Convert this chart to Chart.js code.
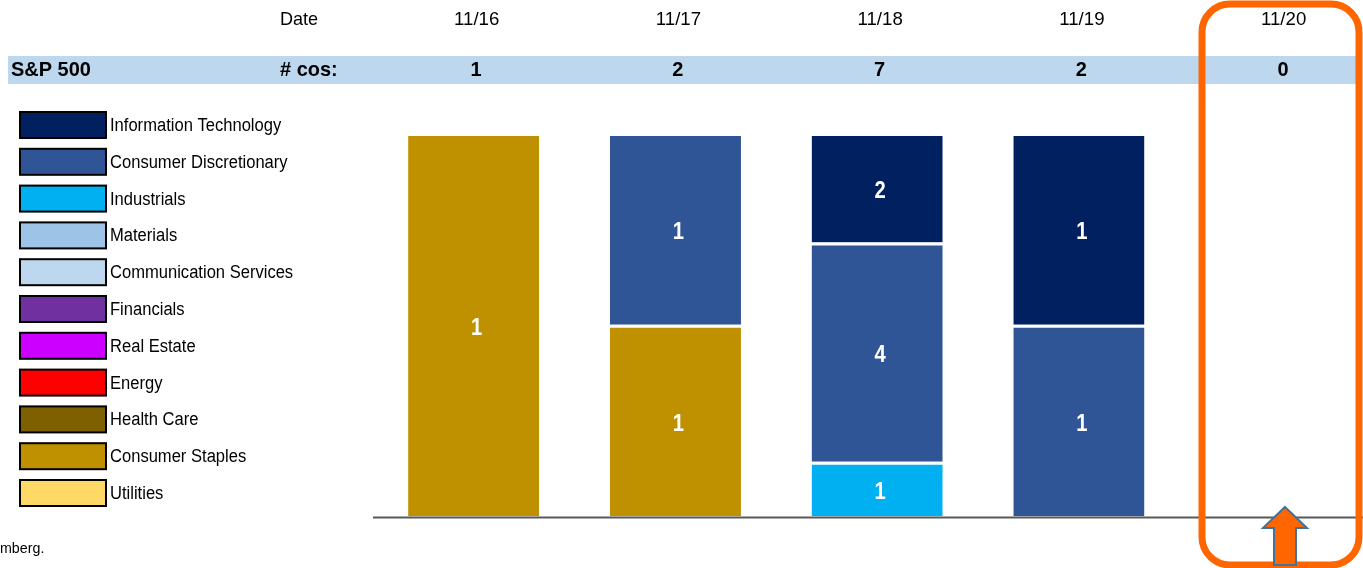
<!DOCTYPE html>
<html><head><meta charset="utf-8">
<script src="https://cdn.jsdelivr.net/npm/chart.js@4.4.1/dist/chart.umd.min.js"></script>
<style>
html,body{margin:0;padding:0;background:#fff;overflow:hidden;width:1363px;height:568px;}
#wrap{position:absolute;left:0;top:0;width:1400px;height:568px;}
</style></head><body>
<div id="wrap"><canvas id="c" width="1400" height="568"></canvas></div>
<script>
const dates = ['11/16','11/17','11/18','11/19','11/20'];
// sectors listed bottom-of-stack first
const sectors = ['Utilities','Consumer Staples','Health Care','Energy','Real Estate','Financials','Communication Services','Materials','Industrials','Consumer Discretionary','Information Technology'];
const sectorColors = ['#FFD966','#BF9000','#7F6000','#FF0000','#CC00FF','#7030A0','#BDD7EE','#9DC3E6','#00B0F0','#2F5597','#002060'];
const utilities = [0,0,0,0,0];
const consumerStaples = [1,1,0,0,0];
const healthCare = [0,0,0,0,0];
const energy = [0,0,0,0,0];
const realEstate = [0,0,0,0,0];
const financials = [0,0,0,0,0];
const communicationServices = [0,0,0,0,0];
const materials = [0,0,0,0,0];
const industrials = [0,0,1,0,0];
const consumerDiscretionary = [0,1,4,1,0];
const informationTechnology = [0,0,2,1,0];
const counts = [utilities,consumerStaples,healthCare,energy,realEstate,financials,communicationServices,materials,industrials,consumerDiscretionary,informationTechnology];
const totals = dates.map((d,i)=>counts.reduce((s,a)=>s+a[i],0));

const datasets = sectors.map((name,k)=>({
  label:name,
  data: counts[k].map((v,i)=> totals[i] ? v/totals[i]*100 : 0),
  raw: counts[k],
  backgroundColor: sectorColors[k],
  borderColor:'#ffffff',
  borderWidth:{top:3,left:0,right:0,bottom:0},
  borderSkipped:false,
  barPercentage:0.65,
  categoryPercentage:1
}));

const FONT = '"Liberation Sans", Arial, sans-serif';
function txt(ctx,s,x,y,align,sx){
  ctx.save();
  ctx.translate(x,y); ctx.scale(sx,1);
  ctx.textAlign = align;
  ctx.fillText(s,0,0);
  ctx.restore();
}
const deco = {
  id:'deco',
  beforeDatasetsDraw(chart){
    const ctx = chart.ctx, x = chart.scales.x;
    ctx.save();
    ctx.fillStyle = '#BDD7EE';
    ctx.fillRect(8,56,1349,28);
    ctx.fillStyle = '#000';
    ctx.textBaseline = 'middle';
    ctx.font = '19px '+FONT;
    txt(ctx,'Date',280,20,'left',0.95);
    dates.forEach((d,i)=>txt(ctx,d,x.getPixelForValue(i)+3,20,'center',0.98));
    ctx.font = 'bold 21px '+FONT;
    txt(ctx,'S&P 500',11,70,'left',0.95);
    txt(ctx,'# cos:',280,70,'left',0.95);
    totals.forEach((t,i)=>txt(ctx,String(t),x.getPixelForValue(i)+2.5,70,'center',0.95));
    // legend (top = last sector)
    ctx.font = '18px '+FONT;
    for(let j=0;j<sectors.length;j++){
      const k = sectors.length-1-j;
      const cy = 125 + j*36.8;
      ctx.fillStyle = sectorColors[k];
      ctx.fillRect(20,cy-13,86,26);
      ctx.strokeStyle = '#000'; ctx.lineWidth = 2;
      ctx.strokeRect(20,cy-13,86,26);
      ctx.fillStyle = '#000';
      txt(ctx,sectors[k],110,cy+1,'left',0.92);
    }
    ctx.font = '15px '+FONT;
    txt(ctx,'mberg.',0,549,'left',0.95);
    ctx.restore();
  },
  afterDatasetsDraw(chart){
    const ctx = chart.ctx;
    ctx.save();
    ctx.fillStyle = '#fff';
    ctx.font = 'bold 23px '+FONT;
    ctx.textBaseline = 'middle';
    chart.data.datasets.forEach((ds,k)=>{
      chart.getDatasetMeta(k).data.forEach((bar,i)=>{
        if(ds.raw[i]>0){
          const top = bar.y + 3, bot = bar.base;
          txt(ctx,String(ds.raw[i]), bar.x+3, (top+bot)/2+2.5,'center',0.88);
        }
      });
    });
    const a = chart.chartArea;
    ctx.strokeStyle = '#595959'; ctx.lineWidth = 2;
    ctx.beginPath(); ctx.moveTo(373,a.bottom+1); ctx.lineTo(1400,a.bottom+1); ctx.stroke();
    ctx.strokeStyle = '#FF6600'; ctx.lineWidth = 7;
    ctx.beginPath(); ctx.roundRect(1202,4,157,561,28); ctx.stroke();
    const cx = 1285;
    ctx.beginPath();
    ctx.moveTo(cx,507); ctx.lineTo(cx+22,528); ctx.lineTo(cx+11,528); ctx.lineTo(cx+11,565);
    ctx.lineTo(cx-11,565); ctx.lineTo(cx-11,528); ctx.lineTo(cx-22,528); ctx.closePath();
    ctx.fillStyle = '#FF6600'; ctx.fill();
    ctx.strokeStyle = '#41719C'; ctx.lineWidth = 2; ctx.stroke();
    ctx.restore();
  }
};

new Chart(document.getElementById('c'),{
  type:'bar',
  data:{labels:dates,datasets},
  options:{
    responsive:false,
    animation:false,
    layout:{padding:{left:372.8,right:18.5,top:133,bottom:51.5}},
    plugins:{legend:{display:false},tooltip:{enabled:false}},
    scales:{
      x:{stacked:true,display:false},
      y:{stacked:true,display:false,min:0,max:100}
    }
  },
  plugins:[deco]
});
</script>
</body></html>
